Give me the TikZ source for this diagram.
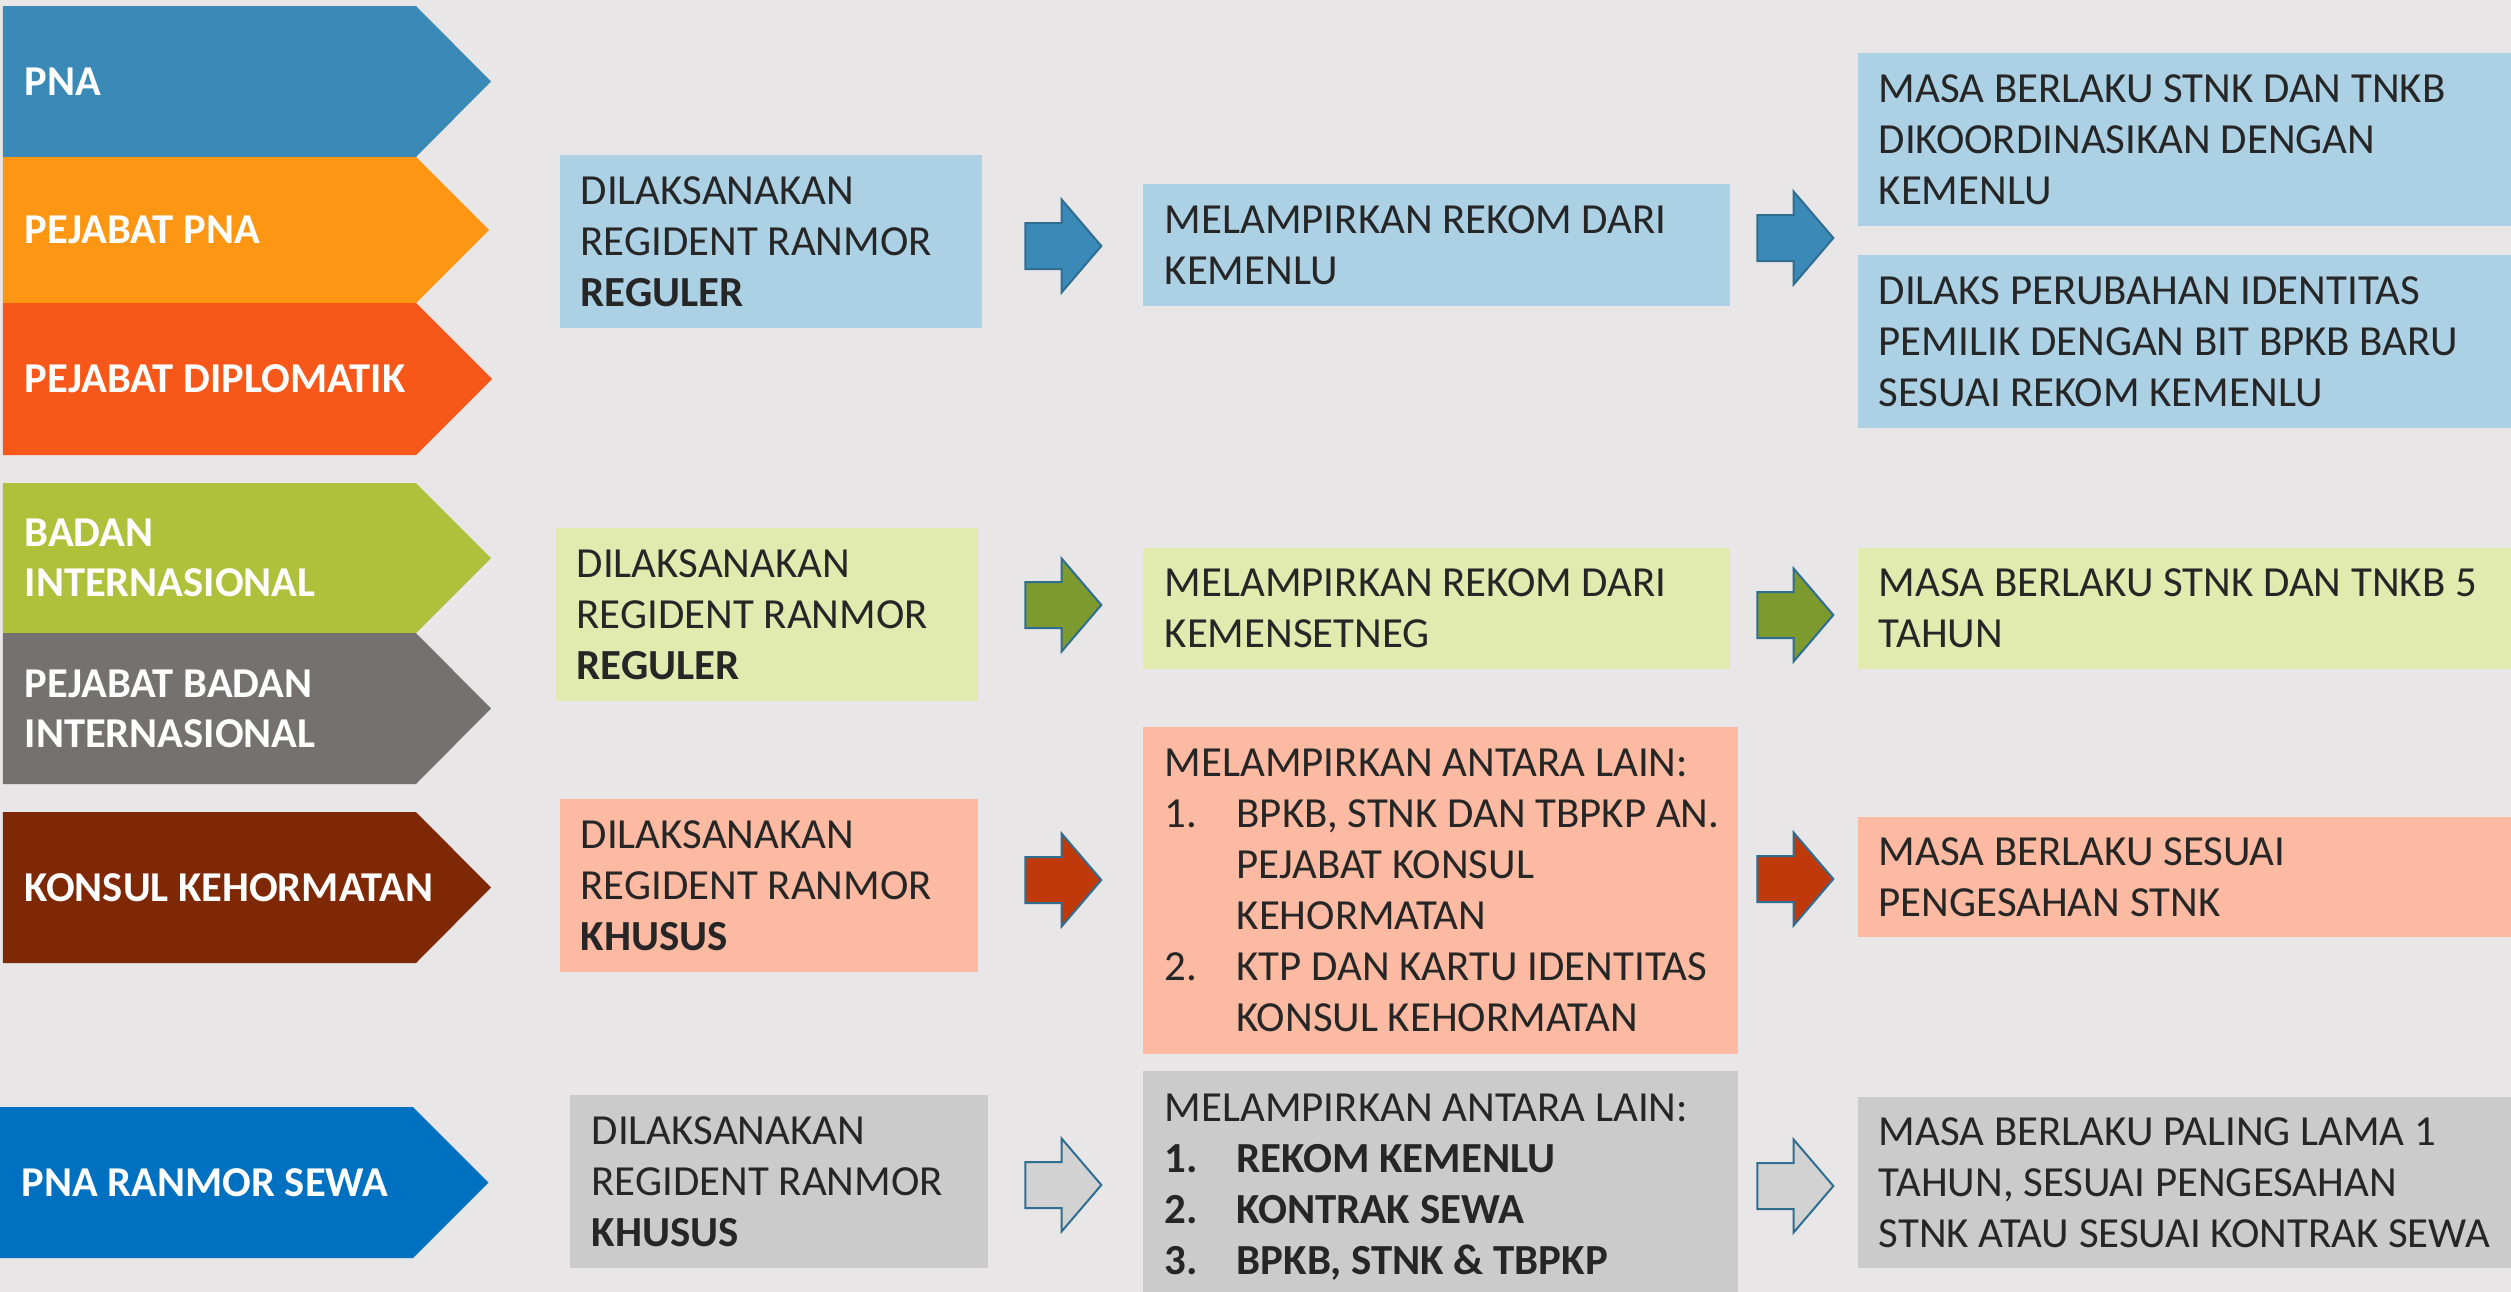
\documentclass[tikz,border=0pt]{standalone}
\usepackage{fontspec}
\setmainfont{Carlito}
\usetikzlibrary{shapes.arrows}

\definecolor{bg}{HTML}{E8E6E7}
\definecolor{ink}{HTML}{262626}
\definecolor{pnaC}{HTML}{3B89B6}
\definecolor{pjpnaC}{HTML}{FD9613}
\definecolor{diplC}{HTML}{F75819}
\definecolor{badanC}{HTML}{AFC13B}
\definecolor{pjbadanC}{HTML}{757170}
\definecolor{konsulC}{HTML}{7F2806}
\definecolor{sewaC}{HTML}{0070C0}
\definecolor{blueL}{HTML}{ACD1E5}
\definecolor{greenL}{HTML}{E1EAAF}
\definecolor{salmonL}{HTML}{FBBAA1}
\definecolor{greyL}{HTML}{CBCBCB}
\definecolor{blueA}{HTML}{3A89B6}
\definecolor{greenA}{HTML}{7C9A2E}
\definecolor{redA}{HTML}{C0390B}
\definecolor{greyA}{HTML}{D2D2D2}
\definecolor{arrline}{HTML}{2F6D91}

\begin{document}
\begin{tikzpicture}[x=0.1mm,y=-0.1mm,
    lbl/.style={anchor=west,align=left,text=white,inner sep=0pt,font=\fontsize{12.1}{14.2}\selectfont\bfseries},
    txt/.style={anchor=west,align=left,text=ink,inner sep=0pt,font=\fontsize{12.2}{14.5}\selectfont},
    blk/.style={single arrow,draw=arrline,line width=0.2mm,minimum height=7.6mm,minimum width=0pt,
        inner xsep=0pt,inner ysep=2.2mm,single arrow head extend=2.35mm,single arrow tip angle=99}]
    \useasboundingbox (0,0) rectangle (2511,1292);
    \fill[bg] (0,0) rectangle (2511,1292);

    % subjects
    \fill[pnaC] (3,6) -- (416,6) -- (491,81.5) -- (416,157) -- (3,157) -- cycle; % pna
    \fill[pjpnaC] (3,157) -- (416,157) -- (489,230) -- (416,303) -- (3,303) -- cycle; % pejabat pna
    \fill[diplC] (3,303) -- (416,303) -- (492,379) -- (416,455) -- (3,455) -- cycle; % diplomatik
    \fill[badanC] (3,483) -- (416,483) -- (491,558) -- (416,633) -- (3,633) -- cycle; % badan
    \fill[pjbadanC] (3,633) -- (416,633) -- (491,708.5) -- (416,784) -- (3,784) -- cycle; % pejabat badan
    \fill[konsulC] (3,812) -- (416,812) -- (491,887.5) -- (416,963) -- (3,963) -- cycle; % konsul
    \fill[sewaC] (0,1107) -- (413,1107) -- (488.5,1182.5) -- (413,1258) -- (0,1258) -- cycle; % sewa

    \node[lbl] (s1) at (24,81.5) {PNA};
    \node[lbl] (s2) at (24,230) {PEJABAT PNA};
    \node[lbl] (s3) at (24,379) {PEJABAT DIPLOMATIK};
    \node[lbl] (s4) at (24,558) {BADAN\\INTERNASIONAL};
    \node[lbl] (s5) at (24,708.5) {PEJABAT BADAN\\INTERNASIONAL};
    \node[lbl] (s6) at (24,887.5) {KONSUL KEHORMATAN};
    \node[lbl] (s7) at (21,1182.5) {PNA RANMOR SEWA};

    % regident
    \fill[blueL] (560,155) rectangle (982,328);
    \fill[greenL] (556,528) rectangle (978,701);
    \fill[salmonL] (560,799) rectangle (978,972);
    \fill[greyL] (570,1095) rectangle (988,1268);
    \node[txt] (r1) at (580,241.5) {DILAKSANAKAN\\REGIDENT RANMOR\\\textbf{REGULER}};
    \node[txt] (r2) at (576,614.5) {DILAKSANAKAN\\REGIDENT RANMOR\\\textbf{REGULER}};
    \node[txt] (r3) at (580,885.5) {DILAKSANAKAN\\REGIDENT RANMOR\\\textbf{KHUSUS}};
    \node[txt] (r4) at (591,1181.5) {DILAKSANAKAN\\REGIDENT RANMOR\\\textbf{KHUSUS}};

    % lampiran
    \fill[blueL] (1143,184) rectangle (1730,306);
    \fill[greenL] (1143,548) rectangle (1730,669);
    \fill[salmonL] (1143,727) rectangle (1738,1054);
    \fill[greyL] (1143,1071) rectangle (1738,1292);
    \node[txt] (m1) at (1164,245) {MELAMPIRKAN REKOM DARI\\KEMENLU};
    \node[txt] (m2) at (1164,608.5) {MELAMPIRKAN REKOM DARI\\KEMENSETNEG};
    \node[txt] (m3) at (1164,890.5) {MELAMPIRKAN ANTARA LAIN:\\
        \makebox[7.2mm][l]{1.}BPKB, STNK DAN TBPKP AN.\\
        \hspace*{7.2mm}PEJABAT KONSUL\\
        \hspace*{7.2mm}KEHORMATAN\\
        \makebox[7.2mm][l]{2.}KTP DAN KARTU IDENTITAS\\
        \hspace*{7.2mm}KONSUL KEHORMATAN};
    \node[txt] (m4) at (1164,1187) {MELAMPIRKAN ANTARA LAIN:\\
        \textbf{\makebox[7.2mm][l]{1.}REKOM KEMENLU}\\
        \textbf{\makebox[7.2mm][l]{2.}KONTRAK SEWA}\\
        \textbf{\makebox[7.2mm][l]{3.}BPKB, STNK \& TBPKP}};

    % hasil
    \fill[blueL] (1858,53) rectangle (2511,226);
    \fill[blueL] (1858,255) rectangle (2511,428);
    \fill[greenL] (1858,548) rectangle (2511,669);
    \fill[salmonL] (1858,817) rectangle (2511,937);
    \fill[greyL] (1858,1097) rectangle (2511,1268);
    \node[txt] (h1) at (1878,139.5) {MASA BERLAKU STNK DAN TNKB\\DIKOORDINASIKAN DENGAN\\KEMENLU};
    \node[txt] (h2) at (1878,341.5) {DILAKS PERUBAHAN IDENTITAS\\PEMILIK DENGAN BIT BPKB BARU\\SESUAI REKOM KEMENLU};
    \node[txt] (h3) at (1878,608.5) {MASA BERLAKU STNK DAN TNKB 5\\TAHUN};
    \node[txt] (h4) at (1878,877) {MASA BERLAKU SESUAI\\PENGESAHAN STNK};
    \node[txt] (h5) at (1878,1182.5) {MASA BERLAKU PALING LAMA 1\\TAHUN, SESUAI PENGESAHAN\\STNK ATAU SESUAI KONTRAK SEWA};

    % block arrows
    \node[blk,fill=blueA] (a1) at (1053.5,246) {};
    \node[blk,fill=greenA] (a2) at (1053.5,605) {};
    \node[blk,fill=redA] (a3) at (1053.5,880) {};
    \node[blk,fill=greyA] (a4) at (1053.5,1185) {};
    \node[blk,fill=blueA] (b1) at (1785.5,238) {};
    \node[blk,fill=greenA] (b2) at (1785.5,615) {};
    \node[blk,fill=redA] (b3) at (1785.5,879) {};
    \node[blk,fill=greyA] (b4) at (1785.5,1186) {};
\end{tikzpicture}
\end{document}
